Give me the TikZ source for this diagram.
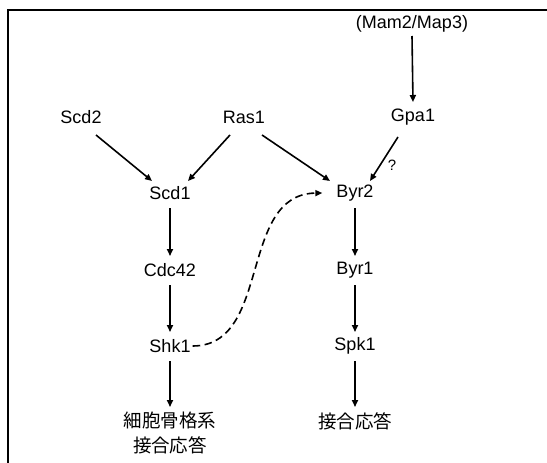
\documentclass[tikz,border=0pt]{standalone}
\usepackage{fontspec}
\setmainfont{Liberation Sans}
\newfontfamily\jpfont{Noto Sans CJK JP}
\usetikzlibrary{arrows.meta}
\begin{document}
\begin{tikzpicture}[x=1pt,y=-1pt,
  lbl/.style={inner sep=0pt, font=\fontsize{18}{21}\selectfont},
  jlbl/.style={inner sep=0pt, align=center, anchor=north, font=\jpfont\fontsize{18.5}{25}\selectfont},
  tip/.style={-{Triangle[length=7pt,width=6pt]}},
  arr/.style={line width=1.6pt, tip},
  darr/.style={line width=1.6pt, dash pattern=on 7.5pt off 4.5pt, tip}]
\useasboundingbox (0,0) rectangle (547,463);
% open frame: top and left edges only
\draw[line width=1.6pt] (547,10) -- (8,10) -- (8,463);

% upstream signals
\node[lbl] (mam) at (412,24) {(Mam2/Map3)};
\node[lbl] (scd2) at (81,117) {Scd2};
\node[lbl] (ras) at (244,117) {Ras1};
\node[lbl] (gpa) at (413,117) {Gpa1};

% left branch
\node[lbl] (scd1) at (170,193) {Scd1};
\node[lbl] (cdc) at (170,270) {Cdc42};
\node[lbl] (shk) at (170,346) {Shk1};
\node[jlbl] (outl) at (170,412) {細胞骨格系\\接合応答};

% right branch
\node[lbl] (byr2) at (355,193) {Byr2};
\node[lbl] (byr1) at (355,270) {Byr1};
\node[lbl] (spk) at (355,346) {Spk1};
\node[jlbl] (outr) at (355,412) {接合応答};

\node[lbl, font=\fontsize{15}{17}\selectfont] (q) at (392,165) {?};

\draw[arr] ([shift={(0,12)}]mam.center) -- ([shift={(0,-15)}]gpa.center);
\draw[arr] ([shift={(15,18)}]scd2.center) -- ([shift={(-18,-12)}]scd1.center);
\draw[arr] ([shift={(-14,18)}]ras.center) -- ([shift={(18,-12)}]scd1.center);
\draw[arr] ([shift={(18,18)}]ras.center) -- ([shift={(-25,-12)}]byr2.center);
\draw[arr] ([shift={(-15,20)}]gpa.center) -- ([shift={(15,-12)}]byr2.center);

\draw[arr] ([shift={(0,15)}]scd1.center) -- ([shift={(0,-14)}]cdc.center);
\draw[arr] ([shift={(0,15)}]cdc.center) -- ([shift={(0,-14)}]shk.center);
\draw[arr] ([shift={(0,15)}]shk.center) -- ([shift={(0,-5)}]outl.north);
\draw[arr] ([shift={(0,15)}]byr2.center) -- ([shift={(0,-14)}]byr1.center);
\draw[arr] ([shift={(0,15)}]byr1.center) -- ([shift={(0,-14)}]spk.center);
\draw[arr] ([shift={(0,15)}]spk.center) -- ([shift={(0,-5)}]outr.north);

% cross-talk between the two kinase cascades
\draw[darr] ([xshift=2pt]shk.east) .. controls (272,346) and (238,194) .. ([xshift=-14pt]byr2.west);
\end{tikzpicture}
\end{document}
